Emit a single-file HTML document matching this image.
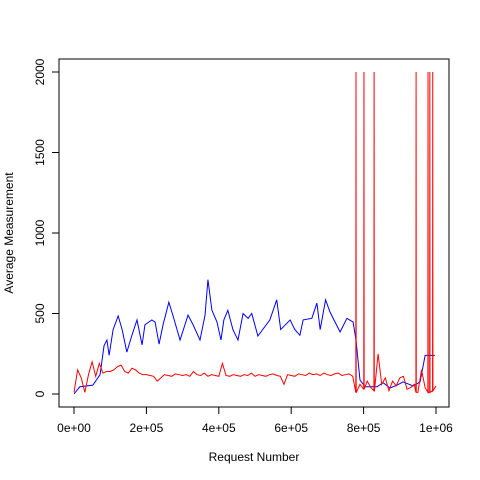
<!DOCTYPE html>
<html><head><meta charset="utf-8"><style>
html,body{margin:0;padding:0;background:#fff}
svg{display:block;font-family:"Liberation Sans",sans-serif}
</style></head><body>
<svg id="chart" width="480" height="480">
<rect x="59" y="59" width="390" height="348" fill="none" stroke="#000"/>
<g id="axes"></g><g id="series"></g>
<text x="254" y="461" text-anchor="middle" font-size="12">Request Number</text>
<text transform="translate(13,233) rotate(-90)" text-anchor="middle" font-size="12">Average Measurement</text>
</svg>
<script>
const xTicks=[0,200000,400000,600000,800000,1000000];
const xTickLabels=["0e+00","2e+05","4e+05","6e+05","8e+05","1e+06"];
const yTicks=[0,500,1000,1500,2000];
const blueX=[0,16,52,72,83,91,97,108,122,133,146,160,174,188,196,215,224,235,246,262,273,293,315,329,348,362,370,381,395,406,414,425,439,453,467,481,491,508,541,560,571,597,610,624,633,657,671,680,695,707,735,754,771,779,790,804,837,854,873,892,909,937,956,970,978,997];
const blueY=[0,45,55,120,300,335,240,400,485,400,260,365,460,305,430,460,447,310,430,570,490,335,490,430,335,490,710,520,447,335,460,520,400,335,500,470,500,360,460,585,400,460,400,365,460,470,565,400,585,510,385,470,447,335,87,45,45,70,37,55,75,50,75,240,240,240];
const redY=[10,150,100,10,120,200,110,190,130,140,140,150,170,180,140,130,160,150,130,120,120,115,110,80,100,120,115,110,125,120,115,120,110,140,120,115,130,110,120,115,110,190,115,110,120,115,110,120,115,130,110,120,115,110,120,125,115,110,60,120,115,110,125,120,115,130,120,125,115,130,120,115,125,130,115,120,125,110,10,60,30,80,40,20,250,60,100,20,80,50,100,110,30,40,60,10,150,40,10,20,50];
const redStep=10; // thousands per entry
const spikeX=[779,801,829,945,978,983,991];
const spikeY=[2000,2000,2000,2000,2000,2000,2000];
const sx=v=>74+v*362/1000000, sy=v=>394-v*0.161;
const NS='http://www.w3.org/2000/svg';
function mk(t,a,p){const e=document.createElementNS(NS,t);for(const k in a)e.setAttribute(k,a[k]);p.appendChild(e);return e;}
const ax=document.getElementById('axes');
const xl=mk('line',{x1:sx(0),x2:sx(1000000),y1:407,y2:407,stroke:'#000'},ax);


xTicks.forEach((t,i)=>{
 const l=mk('line',{x1:sx(t),x2:sx(t),y1:407,y2:414,stroke:'#000'},ax);
 
 
 const tx=mk('text',{x:sx(t),y:432,'text-anchor':'middle','font-size':12},ax);tx.textContent=xTickLabels[i];
 
 
});
const yl=mk('line',{x1:59,x2:59,y1:sy(0),y2:sy(2000),stroke:'#000'},ax);


yTicks.forEach(t=>{
 const l=mk('line',{x1:52,x2:59,y1:sy(t),y2:sy(t),stroke:'#000'},ax);
 
 
 const tx=mk('text',{transform:`translate(44,${sy(t)}) rotate(-90)`,'text-anchor':'middle','font-size':12},ax);tx.textContent=t;
 
 
});
const se=document.getElementById('series');
const bp=mk('polyline',{points:blueX.map((x,i)=>sx(x*1000)+','+sy(blueY[i])).join(' '),fill:'none',stroke:'#00f','stroke-width':1},se);


let pts=redY.map((v,i)=>[i*redStep,v]);
spikeX.forEach((x,i)=>{
 const b=redY[Math.min(redY.length-1,Math.round(x/redStep))];
 pts.push([x-0.5,b],[x,spikeY[i]],[x+0.5,b]);
});
pts.sort((a,b)=>a[0]-b[0]);
const rp=mk('polyline',{points:pts.map(p=>sx(p[0]*1000)+','+sy(p[1])).join(' '),fill:'none',stroke:'#f00','stroke-width':1},se);


</script>
</body></html>
